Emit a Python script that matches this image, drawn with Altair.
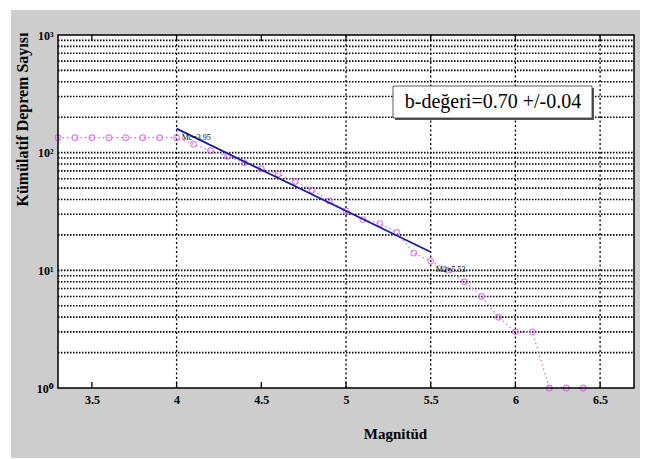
import altair as alt
import pandas as pd

# ---- data ----
magnitudes = [3.3, 3.4, 3.5, 3.6, 3.7, 3.8, 3.9, 4.0, 4.1, 4.2, 4.3, 4.4, 4.5, 4.6,
              4.7, 4.8, 4.9, 5.0, 5.1, 5.2, 5.3, 5.4, 5.5, 5.6, 5.7, 5.8, 5.9, 6.0,
              6.1, 6.2, 6.3, 6.4]
cum_counts = [134, 134, 134, 134, 134, 134, 134, 134, 118, 104, 93, 82, 73, 66,
              57, 48, 39, 32, 27, 25, 21, 14, 12, 10, 8, 6, 4, 3,
              3, 1, 1, 1]
fit_m = [4.0, 5.5]
fit_n = [160, 14.3]
ann_m = [4.03, 5.53]
ann_n = [134, 10.0]
ann_text = ["Mc=3.95", "M2=5.53"]
x_ticks = [3.5, 4.0, 4.5, 5.0, 5.5, 6.0, 6.5]
x_grid = [4.0, 5.0, 5.5, 6.0, 6.5]
y_grid = [2, 3, 4, 5, 6, 7, 8, 9, 10, 20, 30, 40, 50, 60, 70, 80, 90, 100,
          200, 300, 400, 500, 600, 700, 800, 900]
y_major = [1, 10, 100, 1000]
b_text = "b-değeri=0.70 +/-0.04"

W, H = 576, 353
SERIF = "serif"

pts = pd.DataFrame({"m": magnitudes, "n": cum_counts})
fit = pd.DataFrame({"m": fit_m, "n": fit_n})
ann = pd.DataFrame({"m": ann_m, "n": ann_n, "t": ann_text})
xt = pd.DataFrame({"m": x_ticks})
xg = pd.DataFrame({"m": x_grid})
yg = pd.DataFrame({"n": y_grid})

xscale = alt.Scale(domain=[3.3, 6.7], nice=False, zero=False)
yscale = alt.Scale(type="log", domain=[1, 1000], nice=False)

x_axis = alt.Axis(values=x_ticks, grid=False, ticks=False, domain=False, zindex=2,
                  labelFont=SERIF, labelFontWeight="bold", labelFontSize=12,
                  labelColor="black", labelPadding=6, labelFlush=False,
                  labelExpr="datum.value % 1 == 0 ? format(datum.value, 'd') : format(datum.value, '.1f')",
                  title="Magnitüd", titleFont=SERIF, titleFontWeight="bold",
                  titleFontSize=15, titleColor="black", titleX=337, titleY=38)
y_axis = alt.Axis(values=y_major, grid=False, ticks=False, domain=False, zindex=2,
                  labelFont=SERIF, labelFontWeight="bold", labelFontSize=12,
                  labelColor="black", labelPadding=5,
                  labelExpr="datum.value == 1 ? '10⁰' : datum.value == 10 ? '10¹' : datum.value == 100 ? '10²' : '10³'",
                  title="Kümülatif Deprem Sayısı", titleFont=SERIF,
                  titleFontWeight="bold", titleFontSize=16, titleColor="black",
                  titleAngle=-90, titleX=-28, titleY=84)

bg = alt.Chart(pd.DataFrame({"a": [0]})).mark_rect(color="#cdcdcd").encode(
    x=alt.value(-47), x2=alt.value(582), y=alt.value(-25), y2=alt.value(423))
plot_bg = alt.Chart(pd.DataFrame({"a": [0]})).mark_rect(color="white").encode(
    x=alt.value(0), x2=alt.value(W), y=alt.value(0), y2=alt.value(H))

hgrid = alt.Chart(yg).mark_rule(color="black", strokeWidth=1.6, strokeDash=[1.5, 1.5]).encode(
    y=alt.Y("n:Q", scale=yscale, axis=y_axis), x=alt.value(0), x2=alt.value(W))
vgrid = alt.Chart(xg).mark_rule(color="black", strokeWidth=1.3, strokeDash=[2, 2.5]).encode(
    x=alt.X("m:Q", scale=xscale, axis=x_axis), y=alt.value(0), y2=alt.value(H))
bot_ticks = alt.Chart(xt).mark_rule(color="black", strokeWidth=1.3).encode(
    x=alt.X("m:Q", scale=xscale), y=alt.value(H), y2=alt.value(H - 6))
top_ticks = alt.Chart(xt).mark_rule(color="black", strokeWidth=1.3).encode(
    x=alt.X("m:Q", scale=xscale), y=alt.value(0), y2=alt.value(6))

data_line = alt.Chart(pts).mark_line(color="#d070e0", strokeWidth=1.2, strokeDash=[1.5, 3]).encode(
    x=alt.X("m:Q", scale=xscale), y=alt.Y("n:Q", scale=yscale))
data_pts = alt.Chart(pts).mark_point(shape="circle", color="#d050e0", size=32,
                                     strokeWidth=1.1, filled=False, clip=False).encode(
    x=alt.X("m:Q", scale=xscale), y=alt.Y("n:Q", scale=yscale))
fit_line = alt.Chart(fit).mark_line(color="#1c1c9c", strokeWidth=1.8).encode(
    x=alt.X("m:Q", scale=xscale), y=alt.Y("n:Q", scale=yscale))
ann_txt = alt.Chart(ann).mark_text(font=SERIF, fontSize=8, color="black", align="left",
                                   baseline="middle").encode(
    x=alt.X("m:Q", scale=xscale), y=alt.Y("n:Q", scale=yscale), text="t:N")

frame = alt.Chart(pd.DataFrame({"a": [0]})).mark_rect(fill=None, stroke="black", strokeWidth=1.5).encode(
    x=alt.value(0), x2=alt.value(W), y=alt.value(0), y2=alt.value(H))

box_shadow = alt.Chart(pd.DataFrame({"a": [0]})).mark_rect(color="#555555").encode(
    x=alt.value(337), x2=alt.value(536), y=alt.value(53), y2=alt.value(85))
box = alt.Chart(pd.DataFrame({"a": [0]})).mark_rect(fill="white", stroke="#333333", strokeWidth=0.8).encode(
    x=alt.value(335), x2=alt.value(534), y=alt.value(51), y2=alt.value(83))
box_txt = alt.Chart(pd.DataFrame({"t": [b_text]})).mark_text(
    font=SERIF, fontSize=20, color="black", align="center", baseline="middle").encode(
    x=alt.value(435), y=alt.value(67), text="t:N")

chart = alt.layer(bg, plot_bg, hgrid, vgrid, bot_ticks, top_ticks, data_line, data_pts,
                  fit_line, ann_txt, frame, box_shadow, box, box_txt).properties(
    width=W, height=H,
    autosize=alt.AutoSizeParams(type="none"),
    padding={"left": 58, "top": 35, "right": 11, "bottom": 71},
    background="white",
).configure_view(stroke=None)

chart.save("out.html", embed_options={"renderer": "svg", "actions": False})
